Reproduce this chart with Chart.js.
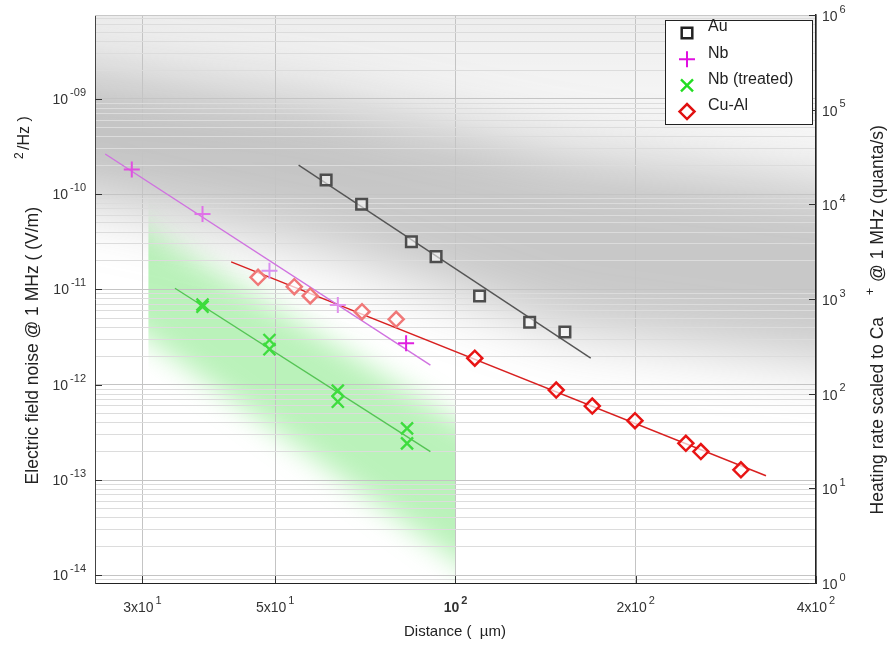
<!DOCTYPE html>
<html>
<head>
<meta charset="utf-8">
<script src="https://cdn.jsdelivr.net/npm/chart.js@4.4.1/dist/chart.umd.min.js"></script>
<style>
  html, body { margin: 0; padding: 0; background: #fff; }
  canvas { display: block; }
</style>
</head>
<body>
<canvas id="chart" width="891" height="645"></canvas>
<script>
// distance in um, field noise in (V/m)^2/Hz
const auDist = [60.8, 69.7, 84.4, 92.8, 109.7, 133.0, 152.3];
const auNoise = [1.41e-10, 7.83e-11, 3.17e-11, 2.21e-11, 8.55e-12, 4.53e-12, 3.58e-12];
const auFitDist = [54.7, 168.2];
const auFitNoise = [2.02e-10, 1.90e-12];

const nbDist = [28.8, 37.8, 48.9, 63.6, 82.7];
const nbNoise = [1.82e-10, 6.19e-11, 1.57e-11, 6.87e-12, 2.72e-12];
const nbFitDist = [26.0, 90.8];
const nbFitNoise = [2.64e-10, 1.61e-12];

const nbtDist = [37.8, 37.8, 48.9, 48.9, 63.6, 63.6, 83.0, 83.0];
const nbtNoise = [6.95e-12, 6.59e-12, 2.95e-12, 2.36e-12, 8.67e-13, 6.64e-13, 3.49e-13, 2.43e-13];
const nbtFitDist = [34.0, 90.8];
const nbtFitNoise = [1.03e-11, 1.99e-13];

const cualDist = [46.8, 53.8, 57.2, 69.8, 79.6, 107.7, 147.3, 169.2, 199.4, 242.5, 256.9, 299.7];
const cualNoise = [1.34e-11, 1.07e-11, 8.55e-12, 5.85e-12, 4.86e-12, 1.90e-12, 8.81e-13, 5.98e-13, 4.20e-13, 2.43e-13, 1.99e-13, 1.28e-13];
const cualFitDist = [42.2, 330.0];
const cualFitNoise = [1.95e-11, 1.11e-13];

// shaded backgrounds
const bandDist = [18, 60, 150, 560];
const bandUpper = [2.56e-9, 9.7e-10, 2.9e-10, 1.1e-10];
const bandLower = [1.25e-10, 2.6e-11, 3.8e-12, 1.4e-12];
const greenDist = [30.7, 100];
const greenUpper = [4.2e-11, 4.3e-13];
const greenLower = [2.95e-12, 1.45e-14];

// axes
const xMin = 25, xMax = 400;
const noiseMin = Math.pow(10, -14.08), noiseMax = Math.pow(10, -8.12);
const rateMin = 1, rateMax = 1e6;
const xTicks = [30, 50, 100, 200, 400];
const xTickLabels = [['3x10', '1'], ['5x10', '1'], ['10', '2'], ['2x10', '2'], ['4x10', '2']];
const noiseTicks = [1e-9, 1e-10, 1e-11, 1e-12, 1e-13, 1e-14];
const noiseTickLabels = ['-09', '-10', '-11', '-12', '-13', '-14'];
const rateTicks = [1, 10, 100, 1e3, 1e4, 1e5, 1e6];
const rateTickLabels = ['0', '1', '2', '3', '4', '5', '6'];

const FONT = '"Liberation Sans", Arial, Helvetica, sans-serif';

function pts(xs, ys) {
  return xs.map((x, i) => ({ x: x, y: ys[i] }));
}

// minor log grid for the noise axis
const noiseGrid = [];
for (let e = -15; e <= -8; e++) {
  for (let m = 1; m <= 9; m++) {
    const v = m * Math.pow(10, e);
    if (v >= noiseMin && v <= noiseMax) noiseGrid.push(v);
  }
}

function supText(ctx, base, sup, x, y, align, size, bold) {
  const w = bold ? 'bold ' : '';
  const f1 = w + size + 'px ' + FONT;
  const f2 = w + Math.round(size * 0.78) + 'px ' + FONT;
  ctx.font = f1;
  const w1 = ctx.measureText(base).width;
  ctx.font = f2;
  const w2 = ctx.measureText(sup).width;
  const gap = 2;
  const total = w1 + gap + w2;
  let x0 = x;
  if (align === 'right') x0 = x - total;
  if (align === 'center') x0 = x - total / 2;
  ctx.textAlign = 'left';
  ctx.textBaseline = 'middle';
  ctx.font = f1;
  ctx.fillText(base, x0, y);
  ctx.font = f2;
  ctx.fillText(sup, x0 + w1 + gap, y - size * 0.52);
}

function rotatedTitle(ctx, cx, endY, size, parts) {
  ctx.save();
  ctx.font = size + 'px ' + FONT;
  const W = ctx.measureText(parts[0].text).width;
  ctx.translate(cx, endY + W);
  ctx.rotate(-Math.PI / 2);
  ctx.textAlign = 'left';
  ctx.textBaseline = 'middle';
  parts.forEach(p => {
    ctx.font = (p.size || size) + 'px ' + FONT;
    ctx.fillText(p.text, p.at === undefined ? 0 : W + p.at, -(p.rise || 0));
  });
  ctx.restore();
}

const backdrop = {
  id: 'backdrop',
  beforeDraw(chart) {
    const ctx = chart.ctx, a = chart.chartArea;
    const xs = chart.scales.x, ys = chart.scales.y;
    ctx.save();
    ctx.fillStyle = '#fff';
    ctx.fillRect(0, 0, chart.width, chart.height);
    ctx.beginPath();
    ctx.rect(a.left, a.top, a.right - a.left, a.bottom - a.top);
    ctx.clip();

    const haze = ctx.createLinearGradient(0, a.top, 0, a.top + 200);
    haze.addColorStop(0, 'rgba(0,0,0,0.07)');
    haze.addColorStop(1, 'rgba(0,0,0,0)');
    ctx.fillStyle = haze;
    ctx.fillRect(a.left, a.top, a.right - a.left, 200);

    ctx.filter = 'blur(30px)';
    ctx.fillStyle = 'rgba(110,110,110,0.38)';
    ctx.beginPath();
    bandDist.forEach((d, i) => {
      const px = xs.getPixelForValue(d), py = ys.getPixelForValue(bandUpper[i]);
      if (i === 0) ctx.moveTo(px, py); else ctx.lineTo(px, py);
    });
    for (let i = bandDist.length - 1; i >= 0; i--) {
      ctx.lineTo(xs.getPixelForValue(bandDist[i]), ys.getPixelForValue(bandLower[i]));
    }
    ctx.closePath();
    ctx.fill();
    ctx.restore();

    // green region, sharp left and right edges
    const gx0 = xs.getPixelForValue(greenDist[0]), gx1 = xs.getPixelForValue(greenDist[1]);
    const u0 = ys.getPixelForValue(greenUpper[0]), u1 = ys.getPixelForValue(greenUpper[1]);
    const l0 = ys.getPixelForValue(greenLower[0]), l1 = ys.getPixelForValue(greenLower[1]);
    const ext = 40, su = (u1 - u0) / (gx1 - gx0), sl = (l1 - l0) / (gx1 - gx0);
    ctx.save();
    ctx.beginPath();
    ctx.rect(gx0, a.top, gx1 - gx0, a.bottom - a.top);
    ctx.clip();
    ctx.filter = 'blur(14px)';
    ctx.fillStyle = 'rgba(90,225,90,0.42)';
    ctx.beginPath();
    ctx.moveTo(gx0 - ext, u0 - su * ext);
    ctx.lineTo(gx1 + ext, u1 + su * ext);
    ctx.lineTo(gx1 + ext, l1 + sl * ext);
    ctx.lineTo(gx0 - ext, l0 - sl * ext);
    ctx.closePath();
    ctx.fill();
    ctx.restore();
  }
};

const decorations = {
  id: 'decorations',
  afterDraw(chart) {
    const ctx = chart.ctx, a = chart.chartArea;
    const xs = chart.scales.x, ys = chart.scales.y, y2 = chart.scales.y2;
    ctx.save();

    // top frame line
    ctx.strokeStyle = '#c8c8c8';
    ctx.lineWidth = 1;
    ctx.beginPath();
    ctx.moveTo(a.left, a.top + 0.5);
    ctx.lineTo(a.right, a.top + 0.5);
    ctx.stroke();

    // inward ticks
    ctx.strokeStyle = '#333';
    ctx.beginPath();
    rateTicks.forEach(v => {
      const py = Math.round(y2.getPixelForValue(v)) + 0.5;
      ctx.moveTo(a.right, py);
      ctx.lineTo(a.right - 7, py);
    });
    noiseTicks.forEach(v => {
      const py = Math.round(ys.getPixelForValue(v)) + 0.5;
      ctx.moveTo(a.left, py);
      ctx.lineTo(a.left + 7, py);
    });
    xTicks.forEach(v => {
      const px = Math.round(xs.getPixelForValue(v)) + 0.5;
      ctx.moveTo(px, a.bottom);
      ctx.lineTo(px, a.bottom - 7);
    });
    ctx.stroke();

    // tick labels
    ctx.fillStyle = '#333';
    noiseTicks.forEach((v, i) => {
      supText(ctx, '10', noiseTickLabels[i], a.left - 9, ys.getPixelForValue(v) + 1, 'right', 14, false);
    });
    rateTicks.forEach((v, i) => {
      supText(ctx, '10', rateTickLabels[i], a.right + 6, y2.getPixelForValue(v) + 2, 'left', 14, false);
    });
    xTicks.forEach((v, i) => {
      supText(ctx, xTickLabels[i][0], xTickLabels[i][1], xs.getPixelForValue(v), a.bottom + 25, 'center', 14, v === 100);
    });

    // axis titles
    ctx.fillStyle = '#222';
    ctx.font = '15px ' + FONT;
    ctx.textAlign = 'center';
    ctx.textBaseline = 'middle';
    ctx.fillText('Distance (  \u00b5m)', 455, 632);

    rotatedTitle(ctx, 33, 207, 17.5, [
      { text: 'Electric field noise @ 1 MHz ( (V/m)' },
      { text: '2', at: 48, rise: 13, size: 12 },
      { text: '/Hz )', at: 57, rise: 8, size: 16 }
    ]);
    rotatedTitle(ctx, 878, 317, 17.5, [
      { text: 'Heating rate scaled to Ca' },
      { text: '+', at: 22, rise: 7, size: 12 },
      { text: '@ 1 MHz (quanta/s)', at: 35 }
    ]);

    // legend
    const lx = 665, ly = 20, lw = 147, lh = 104;
    ctx.fillStyle = '#fff';
    ctx.fillRect(lx, ly, lw, lh);
    ctx.strokeStyle = '#222';
    ctx.lineWidth = 1;
    ctx.strokeRect(lx + 0.5, ly + 0.5, lw, lh);
    const entries = chart.data.datasets.filter(d => d.legend);
    entries.forEach((d, i) => {
      const my = 33 + i * 26.2;
      ctx.save();
      ctx.strokeStyle = d.legend;
      ctx.fillStyle = '#fff';
      ctx.lineWidth = d.borderWidth;
      Chart.helpers.drawPoint(ctx, { pointStyle: d.pointStyle, radius: d.pointRadius, borderWidth: d.borderWidth, rotation: 0 }, 687, my);
      ctx.restore();
      ctx.fillStyle = '#222';
      ctx.font = '16px ' + FONT;
      ctx.textAlign = 'left';
      ctx.textBaseline = 'middle';
      ctx.fillText(d.label, 708, my - 6);
    });
    ctx.restore();
  }
};

function fit(xs, ys, color) {
  return {
    label: '',
    data: pts(xs, ys),
    showLine: true,
    borderColor: color,
    borderWidth: 1.4,
    pointRadius: 0,
    fill: false
  };
}

new Chart(document.getElementById('chart'), {
  type: 'scatter',
  data: {
    datasets: [
      {
        label: 'Au', legend: '#222', data: pts(auDist, auNoise),
        pointStyle: 'rect', pointRadius: 7.5, borderWidth: 2.5,
        borderColor: '#4d4d4d', backgroundColor: 'rgba(255,255,255,0.55)'
      },
      {
        label: 'Nb', legend: '#e010e0', data: pts(nbDist, nbNoise),
        pointStyle: 'cross', pointRadius: 8, borderWidth: 2,
        borderColor: ['#e050e0', '#e070e8', '#d890f0', '#e090ec', '#e020e0'],
        backgroundColor: 'transparent'
      },
      {
        label: 'Nb (treated)', legend: '#22dd22', data: pts(nbtDist, nbtNoise),
        pointStyle: 'crossRot', pointRadius: 8.5, borderWidth: 2.4,
        borderColor: '#3edc3e', backgroundColor: 'transparent'
      },
      {
        label: 'Cu-Al', legend: '#e01010', data: pts(cualDist, cualNoise),
        pointStyle: 'rectRot', pointRadius: 7.5, borderWidth: 2.5,
        borderColor: ['#f07878', '#f07878', '#f07878', '#f07878', '#f07878',
                      '#e81414', '#e81414', '#e81414', '#e81414', '#e81414', '#e81414', '#e81414'],
        backgroundColor: 'rgba(255,255,255,0.7)'
      },
      fit(auFitDist, auFitNoise, '#555'),
      fit(nbFitDist, nbFitNoise, '#d072e0'),
      fit(nbtFitDist, nbtFitNoise, '#55c455'),
      fit(cualFitDist, cualFitNoise, '#d82020')
    ]
  },
  options: {
    responsive: false,
    animation: false,
    devicePixelRatio: 1,
    layout: { padding: { left: 95, right: 75, top: 15, bottom: 62 } },
    plugins: { legend: { display: false }, tooltip: { enabled: false } },
    scales: {
      x: {
        type: 'logarithmic', min: xMin, max: xMax,
        afterBuildTicks: axis => { axis.ticks = xTicks.map(v => ({ value: v })); },
        ticks: { display: false },
        grid: { color: '#c4c4c4', drawTicks: false },
        border: { color: '#222', width: 1 }
      },
      y: {
        type: 'logarithmic', position: 'left', min: noiseMin, max: noiseMax,
        afterBuildTicks: axis => { axis.ticks = noiseGrid.map(v => ({ value: v })); },
        ticks: { display: false },
        grid: {
          drawTicks: false,
          color: c => {
            const v = c.tick ? c.tick.value : 0;
            const m = Math.round(v / Math.pow(10, Math.floor(Math.log10(v) + 1e-9)));
            return m === 1 ? '#c4c4c4' : '#dcdcdc';
          }
        },
        border: { color: '#444', width: 1 }
      },
      y2: {
        type: 'logarithmic', position: 'right', min: rateMin, max: rateMax,
        ticks: { display: false },
        grid: { drawOnChartArea: false, drawTicks: false },
        border: { color: '#222', width: 1.5 }
      }
    }
  },
  plugins: [backdrop, decorations]
});
</script>
</body>
</html>
